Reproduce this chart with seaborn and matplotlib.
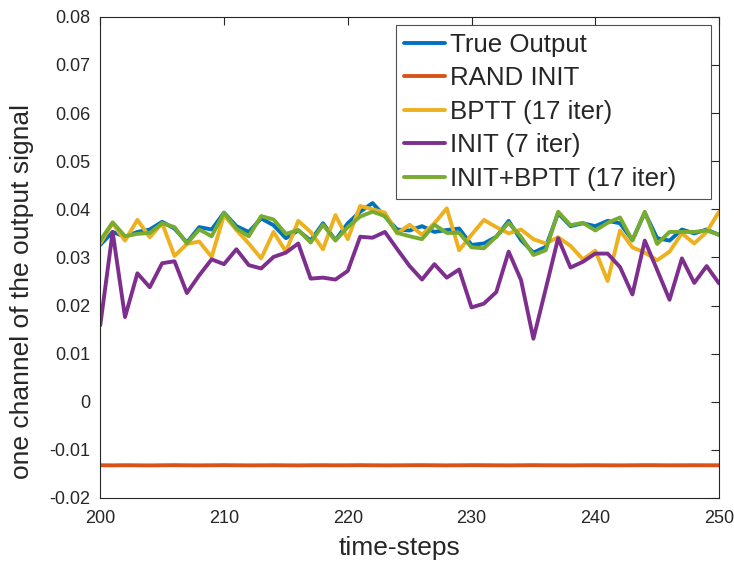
import matplotlib
matplotlib.use("Agg")
import matplotlib.pyplot as plt
import numpy as np
import pandas as pd
import seaborn as sns

# time axis
steps = list(range(200, 251))

true_output = [
    0.0326, 0.0353, 0.0343, 0.0353, 0.0358, 0.0374, 0.0360, 0.0331, 0.0363, 0.0358,
    0.0393, 0.0365, 0.0353, 0.0381, 0.0367, 0.0340, 0.0356, 0.0335, 0.0371, 0.0336,
    0.0371, 0.0395, 0.0413, 0.0385, 0.0358, 0.0356, 0.0365, 0.0353, 0.0357, 0.0360,
    0.0326, 0.0329, 0.0343, 0.0376, 0.0336, 0.0310, 0.0322, 0.0392, 0.0365, 0.0371,
    0.0365, 0.0376, 0.0371, 0.0336, 0.0393, 0.0340, 0.0335, 0.0358, 0.0350, 0.0358,
    0.0347,
]

rand_init = [
    -0.01320, -0.01322, -0.01319, -0.01321, -0.01323, -0.01320, -0.01318, -0.01321, -0.01322, -0.01320,
    -0.01318, -0.01320, -0.01322, -0.01321, -0.01319, -0.01321, -0.01323, -0.01320, -0.01319, -0.01321,
    -0.01320, -0.01318, -0.01320, -0.01322, -0.01321, -0.01319, -0.01318, -0.01320, -0.01322, -0.01320,
    -0.01318, -0.01319, -0.01321, -0.01322, -0.01320, -0.01318, -0.01320, -0.01321, -0.01322, -0.01320,
    -0.01319, -0.01321, -0.01322, -0.01320, -0.01318, -0.01319, -0.01321, -0.01320, -0.01319, -0.01320,
    -0.01320,
]

bptt = [
    0.0329, 0.0371, 0.0335, 0.0378, 0.0342, 0.0371, 0.0303, 0.0328, 0.0333, 0.0301,
    0.0388, 0.0357, 0.0329, 0.0298, 0.0353, 0.0312, 0.0376, 0.0353, 0.0317, 0.0388,
    0.0338, 0.0407, 0.0400, 0.0393, 0.0350, 0.0368, 0.0347, 0.0371, 0.0402, 0.0315,
    0.0347, 0.0378, 0.0363, 0.0350, 0.0358, 0.0338, 0.0329, 0.0342, 0.0324, 0.0296,
    0.0314, 0.0251, 0.0356, 0.0321, 0.0310, 0.0294, 0.0312, 0.0350, 0.0329, 0.0353,
    0.0395,
]

init = [
    0.0159, 0.0353, 0.0176, 0.0267, 0.0238, 0.0288, 0.0292, 0.0226, 0.0263, 0.0296,
    0.0286, 0.0317, 0.0284, 0.0277, 0.0301, 0.0310, 0.0329, 0.0256, 0.0258, 0.0254,
    0.0272, 0.0343, 0.0341, 0.0353, 0.0317, 0.0282, 0.0254, 0.0286, 0.0258, 0.0275,
    0.0196, 0.0204, 0.0228, 0.0312, 0.0253, 0.0131, 0.0235, 0.0340, 0.0279, 0.0291,
    0.0308, 0.0308, 0.0280, 0.0223, 0.0335, 0.0274, 0.0212, 0.0298, 0.0247, 0.0282,
    0.0246,
]

init_bptt = [
    0.0335, 0.0373, 0.0344, 0.0349, 0.0351, 0.0371, 0.0363, 0.0329, 0.0358, 0.0344,
    0.0393, 0.0360, 0.0344, 0.0386, 0.0379, 0.0349, 0.0357, 0.0331, 0.0368, 0.0335,
    0.0363, 0.0385, 0.0395, 0.0386, 0.0351, 0.0344, 0.0338, 0.0368, 0.0351, 0.0351,
    0.0321, 0.0319, 0.0343, 0.0372, 0.0343, 0.0305, 0.0315, 0.0395, 0.0367, 0.0372,
    0.0356, 0.0372, 0.0383, 0.0335, 0.0395, 0.0328, 0.0353, 0.0353, 0.0353, 0.0356,
    0.0347,
]

series_names = ["True Output", "RAND INIT", "BPTT (17 iter)", "INIT (7 iter)", "INIT+BPTT (17 iter)"]
series_values = [true_output, rand_init, bptt, init, init_bptt]
colors = ["#0072BD", "#D95319", "#EDB120", "#7E2F8E", "#77AC30"]

x_ticks = [200, 210, 220, 230, 240, 250]
y_ticks = [-0.02, -0.01, 0.0, 0.01, 0.02, 0.03, 0.04, 0.05, 0.06, 0.07, 0.08]
y_tick_labels = ["-0.02", "-0.01", "0", "0.01", "0.02", "0.03", "0.04",
                 "0.05", "0.06", "0.07", "0.08"]

frames = [pd.DataFrame({"step": steps, "value": vals, "method": name})
          for name, vals in zip(series_names, series_values)]
df = pd.concat(frames, ignore_index=True)

sns.set_theme(style="white")
plt.rcParams["font.family"] = ["Liberation Sans", "DejaVu Sans"]

fig = plt.figure(figsize=(7.34, 5.63), dpi=100)
ax = fig.add_axes([0.1366, 0.1155, 0.8430, 0.8545])

sns.lineplot(data=df, x="step", y="value", hue="method", hue_order=series_names,
             palette=colors, linewidth=2.8, sort=False, ax=ax, legend=False)

ax.set_xlim(200, 250)
ax.set_ylim(-0.02, 0.08)
ax.set_xticks(x_ticks)
ax.set_yticks(y_ticks)
ax.set_yticklabels(y_tick_labels)

ax.tick_params(axis="both", which="both", direction="in", length=6, width=0.8,
               colors="#262626", labelsize=13, top=True, right=True)
ax.tick_params(axis="x", pad=9)
ax.tick_params(axis="y", pad=7)
for s in ax.spines.values():
    s.set_visible(True)
    s.set_color("#262626")
    s.set_linewidth(0.8)

ax.set_xlabel("time-steps", fontsize=19, color="#262626")
ax.set_ylabel("one channel of the output signal", fontsize=19, color="#262626")
ax.xaxis.set_label_coords(0.484, -0.079)
ax.yaxis.set_label_coords(-0.107, 0.43)

handles = [plt.Line2D([], [], color=c, linewidth=2.8) for c in colors]
leg = ax.legend(handles, series_names, loc="upper left",
                bbox_to_anchor=(0.4787, 0.0, 0.5087, 0.9834), mode="expand",
                fontsize=18.6, frameon=True, fancybox=False, edgecolor="#262626",
                handlelength=1.57, handletextpad=0.2, labelspacing=0.37,
                borderpad=0.3, borderaxespad=0.0)
leg.get_frame().set_linewidth(0.8)

fig.savefig("out.png", dpi=100)
